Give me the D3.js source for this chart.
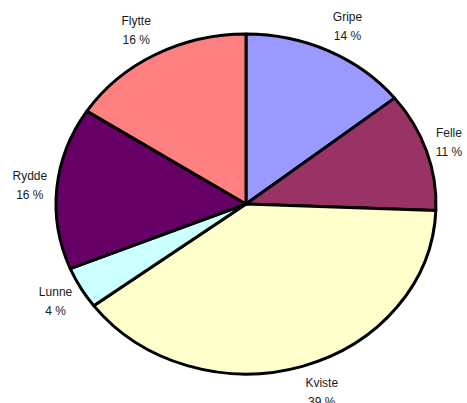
<!DOCTYPE html>
<html><head><meta charset="utf-8">
<script src="https://cdn.jsdelivr.net/npm/d3@7"></script>
<style>body{margin:0;background:#fff}svg{display:block}</style>
</head><body>
<script>
const categories = ["Gripe", "Felle", "Kviste", "Lunne", "Rydde", "Flytte"];
const values = [14.3, 11.3, 39.2, 4.0, 15.4, 15.8];
const labels = ["14 %", "11 %", "39 %", "4 %", "16 %", "16 %"];
const colors = ["#9999FF", "#993366", "#FFFFCC", "#CCFFFF", "#660066", "#FF8080"];

const W = 467, H = 403;
const cx = 246, cy = 204, Rx = 190, Ry = 170;

const svg = d3.select("body").append("svg").attr("width", W).attr("height", H);
const data = categories.map((c, i) => ({name: c, value: values[i], label: labels[i], color: colors[i]}));
const pie = d3.pie().sort(null).value(d => d.value);
const arcs = pie(data);
const arc = d3.arc().innerRadius(0).outerRadius(Ry);

const g = svg.append("g").attr("transform", `translate(${cx},${cy}) scale(${Rx/Ry},1)`);
g.selectAll("path").data(arcs).join("path")
  .attr("d", arc)
  .attr("fill", d => d.data.color)
  .attr("stroke", "#000")
  .attr("stroke-width", 3)
  .attr("stroke-linejoin", "round")
  .attr("vector-effect", "non-scaling-stroke");

const lg = svg.append("g").attr("font-family", "Liberation Sans, Arial, sans-serif")
  .attr("font-size", 12).attr("fill", "#1a1a1a").attr("text-anchor", "middle");
arcs.forEach(a => {
  const m = (a.startAngle + a.endAngle) / 2;
  const s = Math.sin(m);
  const y = cy - Math.cos(m) * Ry * 1.16;
  const t = lg.append("text");
  t.append("tspan").attr("x", 0).attr("y", y - 9.5).attr("dy", "0.35em").text(a.data.name);
  t.append("tspan").attr("x", 0).attr("y", y + 9.5).attr("dy", "0.35em").text(a.data.label);
  const hw = t.node().getBBox().width / 2;
  let x = cx + s * Rx * 1.05 + Math.sign(s) * hw;
  x = Math.max(hw + 6, Math.min(W - hw - 3, x));
  t.selectAll("tspan").attr("x", x);
});
</script>
</body></html>
